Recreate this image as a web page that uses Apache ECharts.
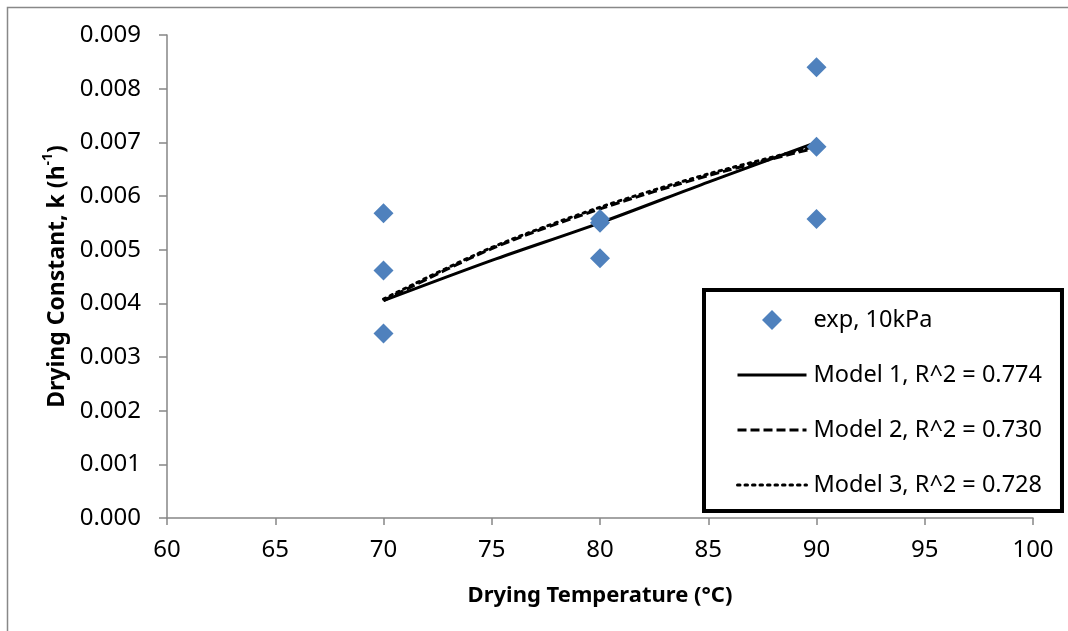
<!DOCTYPE html>
<html>
<head>
<meta charset="utf-8">
<script src="https://cdn.jsdelivr.net/npm/echarts@6/dist/echarts.min.js"></script>
<style>
html,body{margin:0;padding:0;background:#fff;}
#chart{width:1068px;height:631px;}
</style>
</head>
<body>
<div id="chart"></div>
<script>
// Experimental data (10 kPa)
const expTemp = [70, 70, 70, 80, 80, 80, 90, 90, 90];
const expK = [0.00568, 0.00461, 0.00344, 0.00557, 0.00550, 0.00484, 0.00840, 0.00692, 0.00557];

// Model curves
const modelTemp = [70, 75, 80, 85, 90];
const model1K = [0.00405, 0.00480, 0.00550, 0.00626, 0.00700];
const model2K = [0.00405, 0.00502, 0.00576, 0.00638, 0.00690];
const model3K = [0.00408, 0.00504, 0.00579, 0.00641, 0.00693];

const seriesNames = ['exp, 10kPa', 'Model 1, R^2 = 0.774', 'Model 2, R^2 = 0.730', 'Model 3, R^2 = 0.728'];
const yTicks = ['0.000','0.001','0.002','0.003','0.004','0.005','0.006','0.007','0.008','0.009'];

const pairs = (xs, ys) => xs.map((x, i) => [x, ys[i]]);

const FONT = '"Noto Sans", "Open Sans", sans-serif';
const axisGray = '#868686';
const DIAMOND = 'path://M10,0L20,10L10,20L0,10Z';

const chart = echarts.init(document.getElementById('chart'), null, {renderer: 'canvas'});
chart.setOption({
  animation: false,
  backgroundColor: '#fff',
  textStyle: {fontFamily: FONT},
  graphic: [{
    type: 'rect', left: 5, top: 5, silent: true, z: -10,
    shape: {width: 1080, height: 640},
    style: {fill: 'none', stroke: '#888', lineWidth: 1.5}
  }],
  grid: {left: 167, right: 35, top: 35, bottom: 113, containLabel: false},
  xAxis: {
    type: 'value', min: 60, max: 100, interval: 5,
    name: 'Drying Temperature (°C)', nameLocation: 'middle', nameGap: 67,
    nameTextStyle: {fontFamily: FONT, fontSize: 22, fontWeight: 'bold', color: '#000'},
    axisLine: {show: true, onZero: false, lineStyle: {color: axisGray, width: 1.5}},
    axisTick: {show: true, length: 7, lineStyle: {color: axisGray, width: 1.5}},
    axisLabel: {fontFamily: FONT, fontSize: 24, color: '#000', margin: 20},
    splitLine: {show: false}
  },
  yAxis: {
    type: 'value', min: 0, max: 0.009, interval: 0.001,
    name: '{a|Drying Constant, k (h}{s|-1}{a|)}', nameLocation: 'middle', nameGap: 97, nameRotate: 90,
    nameTextStyle: {
      fontFamily: FONT, fontSize: 23, fontWeight: 'bold', color: '#000',
      rich: {
        a: {fontFamily: FONT, fontSize: 23, fontWeight: 'bold', color: '#000', lineHeight: 28, verticalAlign: 'bottom'},
        s: {fontFamily: FONT, fontSize: 14, fontWeight: 'bold', color: '#000', lineHeight: 28, verticalAlign: 'top'}
      }
    },
    axisLine: {show: true, onZero: false, lineStyle: {color: axisGray, width: 1.5}},
    axisTick: {show: true, length: 8, inside: false, lineStyle: {color: axisGray, width: 1.5}},
    axisLabel: {fontFamily: FONT, fontSize: 24, color: '#000', margin: 26,
      formatter: (v) => yTicks[Math.round(v * 1000)]},
    splitLine: {show: false}
  },
  legend: {
    orient: 'vertical',
    left: 704, top: 290,
    padding: [18, 20, 14, 32],
    itemGap: 31,
    itemWidth: 69, itemHeight: 20,
    symbolKeepAspect: true,
    borderColor: '#000', borderWidth: 4,
    backgroundColor: '#fff',
    textStyle: {fontFamily: FONT, fontSize: 23.5, color: '#000', padding: [0, 0, 0, 2]},
    data: [
      {name: seriesNames[0], icon: DIAMOND, itemStyle: {color: '#4F81BD'}},
      {name: seriesNames[1], itemStyle: {opacity: 0}, lineStyle: {width: 3, color: '#000'}},
      {name: seriesNames[2], itemStyle: {opacity: 0}, lineStyle: {width: 3, color: '#000'}},
      {name: seriesNames[3], itemStyle: {opacity: 0}, lineStyle: {width: 3, color: '#000'}}
    ]
  },
  series: [
    {
      name: seriesNames[1], type: 'line', data: pairs(modelTemp, model1K),
      smooth: 0.3, symbol: 'none', z: 2,
      lineStyle: {color: '#000', width: 3, type: 'solid'},
      itemStyle: {color: '#000'}
    },
    {
      name: seriesNames[2], type: 'line', data: pairs(modelTemp, model2K),
      smooth: 0.3, symbol: 'none', z: 2,
      lineStyle: {color: '#000', width: 3, type: [9, 4]},
      itemStyle: {color: '#000'}
    },
    {
      name: seriesNames[3], type: 'line', data: pairs(modelTemp, model3K),
      smooth: 0.3, symbol: 'none', z: 2,
      lineStyle: {color: '#000', width: 3, type: [2.5, 5], cap: 'round'},
      itemStyle: {color: '#000'}
    },
    {
      name: seriesNames[0], type: 'scatter', data: pairs(expTemp, expK),
      symbol: 'diamond', symbolSize: [20, 20], z: 5,
      itemStyle: {color: '#4F81BD', opacity: 1}
    }
  ]
});
</script>
</body>
</html>
